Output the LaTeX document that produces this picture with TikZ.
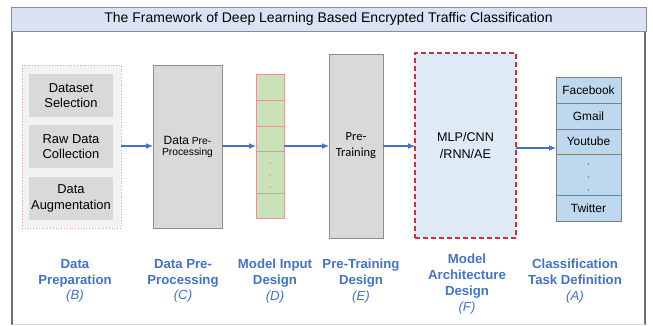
\documentclass[tikz,border=0pt]{standalone}
\usepackage{fontspec}
\setmainfont{Liberation Sans}
\newfontfamily\calib{Carlito}
\usetikzlibrary{arrows.meta}
\definecolor{titlebg}{HTML}{DAE3F3}
\definecolor{framegray}{HTML}{6E6E6E}
\definecolor{boxgray}{HTML}{D9D9D9}
\definecolor{boxedge}{HTML}{8C8C8C}
\definecolor{prepbg}{HTML}{F2F2F2}
\definecolor{pinkedge}{HTML}{E6A3AC}
\definecolor{cellgreen}{HTML}{C9E2B8}
\definecolor{celledge}{HTML}{D99A9A}
\definecolor{archbg}{HTML}{DEEBF7}
\definecolor{archedge}{HTML}{D0303A}
\definecolor{clsbg}{HTML}{BDD7EE}
\definecolor{clsedge}{HTML}{7F7F7F}
\definecolor{arrblue}{HTML}{4472C4}
\definecolor{labblue}{HTML}{4472C4}
\begin{document}
\begin{tikzpicture}[x=1pt,y=-1pt,
  every node/.style={inner sep=0pt, outer sep=0pt},
  graybox/.style={draw=boxedge, fill=boxgray, line width=0.8pt},
  innerbox/.style={fill=boxgray, minimum width=84pt, minimum height=43pt, align=center, font=\fontsize{12.9}{15.5}\selectfont},
  cellg/.style={draw=celledge, fill=cellgreen, line width=0.8pt, minimum width=28pt},
  cellb/.style={draw=clsedge, fill=clsbg, line width=0.8pt, minimum width=65pt, font=\fontsize{11.9}{13}\selectfont},
  arr/.style={draw=arrblue, line width=1.1pt, -{Latex[length=7pt,width=6pt]}},
  steplab/.style={text=labblue, align=center, font=\bfseries\fontsize{13.2}{15.8}\selectfont}
]
\useasboundingbox (0,0) rectangle (653,325);
% frame
\draw[framegray, line width=2pt] (12,31) -- (12,325);
\draw[framegray, line width=2pt] (645,31) -- (645,325);
\draw[black!15, line width=0.5pt] (12,324.5) -- (645,324.5);
\node[draw=boxedge, fill=titlebg, line width=0.8pt, minimum width=635pt, minimum height=24pt,
      font=\fontsize{14}{16}\selectfont] (title) at (328.5,19) {The Framework of Deep Learning Based Encrypted Traffic Classification};

% data preparation
\node[draw=pinkedge, dotted, fill=prepbg, line width=0.8pt, minimum width=99pt, minimum height=163pt] (prep) at (71.5,146.5) {};
\node[innerbox] (ds) at (71,95.5) {Dataset\\Selection};
\node[innerbox] (raw) at (71,146.5) {Raw Data\\Collection};
\node[innerbox] (aug) at (71,198.5) {Data\\Augmentation};

% data pre-processing
\node[graybox, minimum width=69pt, minimum height=163pt, align=center] (dpp) at (187.5,146.5)
  {{\fontsize{12}{15}\selectfont Data} {\fontsize{10.3}{15}\selectfont Pre-}\\[-1pt]{\fontsize{10.3}{15}\selectfont Processing}};

% model input
\node[minimum width=28pt, minimum height=144pt] (mi) at (270,146) {};
\node[cellg, minimum height=26pt] (mi1) at (270,87) {};
\node[cellg, minimum height=26pt] (mi2) at (270,113) {};
\node[cellg, minimum height=25pt] (mi3) at (270,138.5) {};
\node[cellg, minimum height=42pt] (mi4) at (270,172) {};
\node[cellg, minimum height=25pt] (mi5) at (270,205.5) {};
\foreach \yy in {163,175,187} \fill[red!70] (270,\yy) circle (0.7pt);

% pre-training
\node[graybox, minimum width=54pt, minimum height=184pt, align=center, font=\calib\fontsize{12.5}{16}\selectfont] (pt) at (356,146) {Pre-\\Training};

% model architecture
\node[draw=archedge, dashed, dash pattern=on 5pt off 3pt, fill=archbg, line width=1.1pt, minimum width=101pt, minimum height=185pt,
      align=center, font=\fontsize{12.6}{17}\selectfont] (arch) at (465.5,145.5) {MLP/CNN\\/RNN/AE};

% classification task
\node[minimum width=65pt, minimum height=144pt] (cls) at (588.5,148) {};
\node[cellb, minimum height=26pt] (c1) at (588.5,90) {Facebook};
\node[cellb, minimum height=26pt] (c2) at (588.5,116) {Gmail};
\node[cellb, minimum height=25pt] (c3) at (588.5,141.5) {Youtube};
\node[cellb, minimum height=41pt] (c4) at (588.5,174.5) {};
\node[cellb, minimum height=26pt] (c5) at (588.5,208) {Twitter};
\foreach \yy in {164,177,190} \fill[black!70] (588.5,\yy) circle (0.6pt);

% arrows
\draw[arr] (prep.east |- mi.west) -- (dpp.west |- mi.west);
\draw[arr] (dpp.east |- mi.west) -- (mi.west);
\draw[arr] (mi.east) -- (pt.west |- mi.east);
\draw[arr] (pt.east |- mi.east) -- (arch.west |- mi.east);
\draw[arr] (arch.east |- cls.west) -- (cls.west);

% step labels
\node[steplab] (lb) at (75,281) {Data\\Preparation\\{\itshape\mdseries (B)}};
\node[steplab] (lc) at (183,281) {Data Pre-\\Processing\\{\itshape\mdseries (C)}};
\node[steplab] (ld) at (275,281) {Model Input\\Design\\{\itshape\mdseries (D)}};
\node[steplab] (le) at (361,281) {Pre-Training\\Design\\{\itshape\mdseries (E)}};
\node[steplab] (lf) at (467,284) {Model\\Architecture\\Design\\{\itshape\mdseries (F)}};
\node[steplab] (la) at (575,281) {Classification\\Task Definition\\{\itshape\mdseries (A)}};
\end{tikzpicture}
\end{document}
